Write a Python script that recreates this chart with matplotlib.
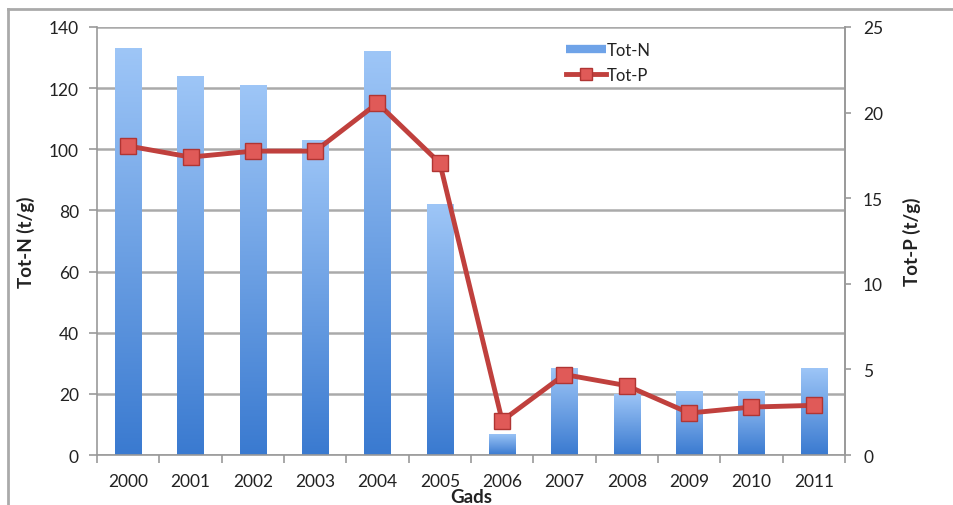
import numpy as np
import matplotlib.pyplot as plt
from matplotlib.lines import Line2D
from matplotlib.colors import LinearSegmentedColormap

plt.rcParams['font.family'] = ['Lato', 'DejaVu Sans']

# dati
years = ['2000', '2001', '2002', '2003', '2004', '2005', '2006',
         '2007', '2008', '2009', '2010', '2011']
tot_n = [133, 124, 121, 103, 132, 82, 7, 28.5, 20, 21, 21, 28.5]
tot_p = [18.05, 17.4, 17.75, 17.75, 20.55, 17.05, 2.0, 4.7, 4.05, 2.45, 2.8, 2.9]

grid_col = '#aaaaaa'
text_col = '#222222'
line_col = '#c0403d'

fig = plt.figure(figsize=(9.54, 5.06), dpi=100)
ax = fig.add_axes([0.1017, 0.0988, 0.7840, 0.8459])
ax2 = ax.twinx()

x = np.arange(len(years))
bars = ax.bar(x, tot_n, width=0.42, color='none', edgecolor='none', zorder=2)

# gradiente sulle barre
cmap = LinearSegmentedColormap.from_list('blu', ['#3a7ad0', '#9ec6f7'])
grad = np.linspace(0, 1, 256).reshape(-1, 1)
for b in bars:
    x0, y0 = b.get_x(), b.get_y()
    w, h = b.get_width(), b.get_height()
    im = ax.imshow(grad, cmap=cmap, origin='lower', aspect='auto',
                   extent=[x0, x0 + w, y0, y0 + h], zorder=2)
    im.set_clip_path(b)

ax.set_xlim(-0.5, len(years) - 0.5)
ax.set_ylim(0, 140)
ax.set_yticks(np.arange(0, 141, 20))
ax.set_xticks(x)
ax.set_xticklabels(years)
ax.set_xticks(np.arange(-0.5, len(years), 1), minor=True)
ax.tick_params(axis='x', which='major', length=0, pad=13, labelsize=12.5, colors=text_col)
ax.tick_params(axis='x', which='minor', length=6, width=1.2, color='#999999', direction='out')
ax.tick_params(axis='y', length=6, width=1.2, color='#999999', labelsize=12.5,
               labelcolor=text_col, pad=7)
ax.yaxis.grid(True, color=grid_col, linewidth=1.8)
ax.set_axisbelow(True)

for s in ['left', 'bottom', 'right']:
    ax.spines[s].set_color('#999999')
    ax.spines[s].set_linewidth(1.2)
ax.spines['top'].set_visible(False)

ax.set_ylabel('Tot-N (t/g)', fontsize=13.5, fontweight='bold', color=text_col, labelpad=10)
ax.set_xlabel('Gads', fontsize=13.5, fontweight='bold', color=text_col)
ax.xaxis.set_label_coords(0.5, -0.078)

# linea Tot-P
ax2.plot(x, tot_p, color=line_col, linewidth=3.5, marker='s', markersize=11,
         markerfacecolor='#e05a58', markeredgecolor='#b03533', markeredgewidth=1,
         zorder=5)
ax2.set_ylim(0, 25)
ax2.set_yticks(np.arange(0, 26, 5))
ax2.tick_params(axis='y', length=4, width=1.2, color='#999999', labelsize=12.5,
                labelcolor=text_col, pad=9)
ax2.spines['right'].set_color('#999999')
ax2.spines['right'].set_linewidth(1.2)
for s in ['left', 'bottom', 'top']:
    ax2.spines[s].set_visible(False)
ax2.set_ylabel('Tot-P (t/g)', fontsize=13.5, fontweight='bold', color=text_col, labelpad=14)

# legenda
handles = [Line2D([], [], color='#6fa3e8', linewidth=6, solid_capstyle='butt'),
           Line2D([], [], color=line_col, linewidth=3.5, marker='s', markersize=9,
                  markerfacecolor='#e05a58', markeredgecolor='#b03533')]
ax2.legend(handles, ['Tot-N', 'Tot-P'], loc='upper left', bbox_to_anchor=(0.578, 0.945),
           bbox_transform=fig.transFigure, frameon=False, fontsize=12,
           handlelength=2.4, handletextpad=0.0, labelspacing=0.55, labelcolor=text_col)

# cornice
fig.add_artist(Line2D([0.008, 1.0], [0.981, 0.981], transform=fig.transFigure,
                      color='#aaaaaa', linewidth=2))
fig.add_artist(Line2D([0.008, 0.008], [0.0, 0.981], transform=fig.transFigure,
                      color='#aaaaaa', linewidth=2))

fig.savefig('out.png', dpi=100)
